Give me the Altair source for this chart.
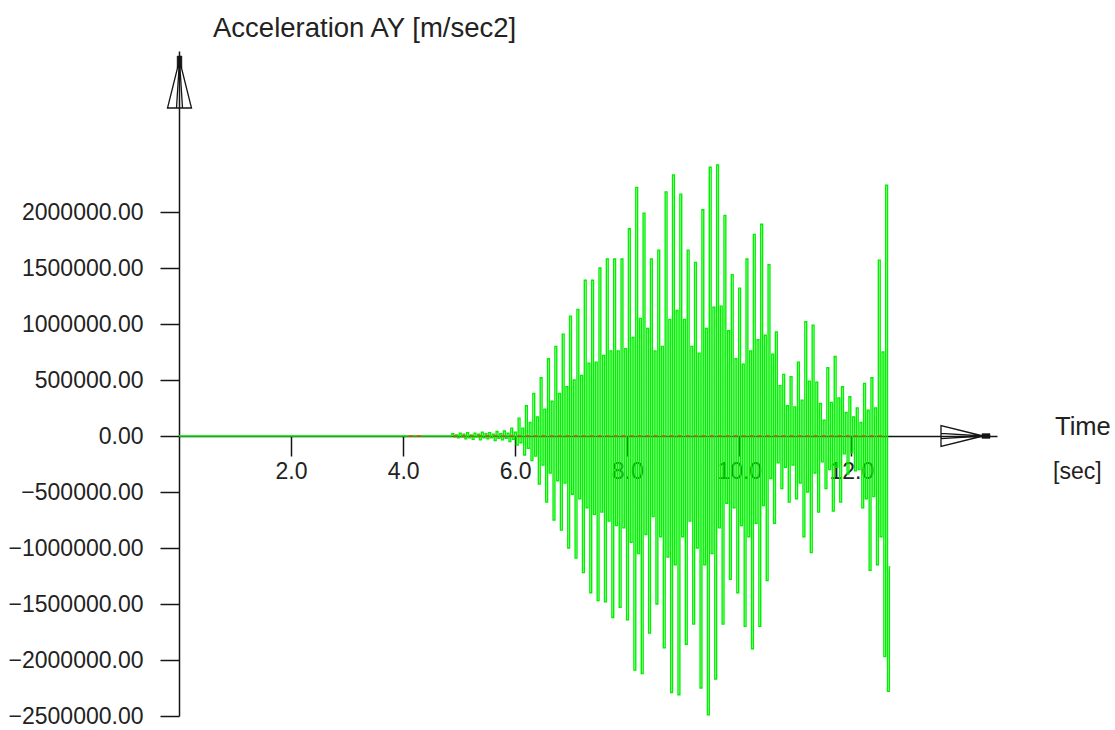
import altair as alt
import pandas as pd

# ------------------------------------------------------------------
# Acceleration AY record, one entry per oscillation cycle
# (values in thousands of m/sec2). Each cycle is sampled as
# upper peak -> inner low -> inner high -> lower peak.
# ------------------------------------------------------------------
cycle_start = 4.889     # s, first upper peak
cycle_len = 0.1312      # s, duration of one cycle

upper_peak = [20, 25, 30, 25, 35, 30, 40, 45, 70,
              160, 270, 380, 520, 690, 800, 910, 1070, 1130, 1390,
              1390, 1500, 1580, 1580, 1580, 1850, 2220, 1990, 1580, 1660,
              2180, 2330, 2160, 1660, 1550, 2020, 2400, 2420, 1970, 1440,
              1320, 1580, 1800, 1890, 1530, 930, 550, 530, 660, 1020,
              990, 290, 610, 710, 440, 350, 250, 470, 520, 1570]
inner_low = [-10, -10, -15, -10, -15, -15, -20, -20, -30,
             -60, -110, -180, -260, -330, -400, -420, -520, -560, -640,
             -700, -680, -760, -800, -820, -950, -1050, -880, -720, -900,
             -1080, -1150, -900, -760, -1000, -1150, -1050, -820, -600, -640,
             -800, -900, -780, -620, -380, -240, -280, -260, -420, -500,
             -330, -230, -300, -280, -160, -150, -300, -560, -540, -900]
inner_high = [10, 15, 10, 15, 20, 15, 20, 25, 35,
              70, 120, 170, 240, 310, 380, 440, 500, 540, 650,
              660, 720, 760, 760, 780, 880, 1050, 960, 760, 800,
              1040, 1120, 1040, 800, 740, 960, 1150, 1160, 940, 690,
              640, 760, 860, 900, 730, 450, 270, 260, 320, 490,
              480, 140, 300, 340, 210, 170, 120, 230, 250, 750]
lower_peak = [-15, -25, -30, -35, -25, -40, -35, -50, -80,
              -170, -220, -430, -590, -750, -840, -1000, -1090, -1220, -1400,
              -1470, -1480, -1620, -1530, -1640, -2090, -2120, -1760, -1500, -1890,
              -2290, -2310, -1860, -1680, -2250, -2490, -2170, -1680, -1280, -1400,
              -1700, -1900, -1700, -1290, -780, -470, -590, -560, -900, -1040,
              -680, -470, -670, -590, -340, -310, -640, -1200, -1150, -1970]
final_cycle = [2240, -2280, -1170]

# quiet stretch before the shaking starts
quiet_t = [0.0, 4.85]
quiet_v = [0.0, 0.0]

# second channel (near zero) drawn as a dashed trace
red_start = [4.10, 4.90]
red_end = [4.32, 12.62]

x_ticks = [2, 4, 6, 8, 10, 12]
y_ticks = [-2500000, -2000000, -1500000, -1000000, -500000,
           0, 500000, 1000000, 1500000, 2000000]

# ---------------- assemble the sampled series ----------------
step = cycle_len / 4
times, accel = list(quiet_t), list(quiet_v)
for k, cycle in enumerate(zip(upper_peak, inner_low, inner_high, lower_peak)):
    t0 = cycle_start + k * cycle_len
    for j, v in enumerate(cycle):
        times.append(t0 + j * step)
        accel.append(v * 1000.0)
t0 = cycle_start + len(upper_peak) * cycle_len
for j, v in enumerate(final_cycle):
    times.append(t0 + j * step)
    accel.append(v * 1000.0)
signal = pd.DataFrame({"t": times, "a": accel})

# ---------------- geometry ----------------
t_max = 14.6
y_min, y_max = -2500000, 3437500
plot_w, plot_h = 818, 665
zero_px = plot_h * y_max / (y_max - y_min)   # pixel row of a = 0

ink = "#151515"
font = "Liberation Sans"

x_scale = alt.Scale(domain=[0, t_max], nice=False, zero=False)
y_scale = alt.Scale(domain=[y_min, y_max], nice=False, zero=False)

x_axis = alt.Axis(values=x_ticks, format=".1f", title=None, grid=False,
                  offset=-(plot_h - zero_px), tickSize=20, tickWidth=1.5,
                  tickColor=ink, domainColor=ink, domainWidth=1.5,
                  labelFont=font, labelFontSize=23, labelColor="#222222",
                  labelPadding=4, labelFlush=False, labelOverlap=False)
y_axis = alt.Axis(values=y_ticks, format=".2f", title=None, grid=False,
                  tickSize=19, tickWidth=1.5, tickColor=ink,
                  domainColor=ink, domainWidth=1.5,
                  labelFont=font, labelFontSize=23, labelColor="#222222",
                  labelPadding=17, labelFlush=False, labelOverlap=False)

trace = alt.Chart(signal).mark_line(
    color="#00f000", strokeWidth=1.4, interpolate="step"
).encode(
    x=alt.X("t:Q", scale=x_scale, axis=x_axis),
    y=alt.Y("a:Q", scale=y_scale, axis=y_axis),
)

red_trace = alt.Chart(pd.DataFrame({"t0": red_start, "t1": red_end})).mark_rule(
    color="#f03c1e", strokeWidth=1.5, strokeDash=[4, 4]
).encode(
    x=alt.X("t0:Q", scale=x_scale, axis=x_axis),
    x2="t1:Q",
    y=alt.value(zero_px),
)

# arrow heads at the ends of both axes
one = pd.DataFrame({"k": [0]})
y_head = alt.Chart(one).mark_point(
    shape="M0,-1L0.5,1L-0.5,1Z M0,-1L0.125,1 M0,-1L-0.125,1",
    size=2304, filled=False, stroke=ink, strokeWidth=1.3, opacity=1,
).encode(x=alt.value(0.5), y=alt.value(33))
y_tip = alt.Chart(one).mark_point(
    shape="M-0.4,-1H0.4V1H-0.4Z", size=144, filled=True,
    fill=ink, stroke=ink, strokeWidth=0.5, opacity=1,
).encode(x=alt.value(0.5), y=alt.value(11))
x_head = alt.Chart(one).mark_point(
    shape="M1,0L-1,0.5L-1,-0.5Z M1,0L-1,0.125 M1,0L-1,-0.125",
    size=1764, filled=False, stroke=ink, strokeWidth=1.3, opacity=1,
).encode(x=alt.value(783), y=alt.value(zero_px))
x_tip = alt.Chart(one).mark_point(
    shape="M-1,-0.6H1V0.6H-1Z", size=64, filled=True,
    fill=ink, stroke=ink, strokeWidth=0.5, opacity=1,
).encode(x=alt.value(807), y=alt.value(zero_px))

# axis captions
y_caption = alt.Chart(pd.DataFrame({"s": ["Acceleration AY [m/sec2]"]})).mark_text(
    align="left", baseline="alphabetic", font=font, fontSize=27.5, color="#222222"
).encode(text="s:N", x=alt.value(34), y=alt.value(-14))
x_caption = alt.Chart(pd.DataFrame({"s": ["Time"]})).mark_text(
    align="left", baseline="alphabetic", font=font, fontSize=25.5, color="#222222"
).encode(text="s:N", x=alt.value(876), y=alt.value(384))
x_unit = alt.Chart(pd.DataFrame({"s": ["[sec]"]})).mark_text(
    align="left", baseline="alphabetic", font=font, fontSize=23, color="#222222"
).encode(text="s:N", x=alt.value(874), y=alt.value(428))

chart = alt.layer(
    trace, red_trace, y_head, y_tip, x_head, x_tip, y_caption, x_caption, x_unit
).properties(
    width=plot_w, height=plot_h,
    padding={"left": 179, "top": 51, "right": 118, "bottom": 14},
    autosize=alt.AutoSizeParams(type="none"),
    background="white",
).configure_view(stroke=None)

chart.save("out.html", embed_options={"renderer": "svg", "actions": False})
